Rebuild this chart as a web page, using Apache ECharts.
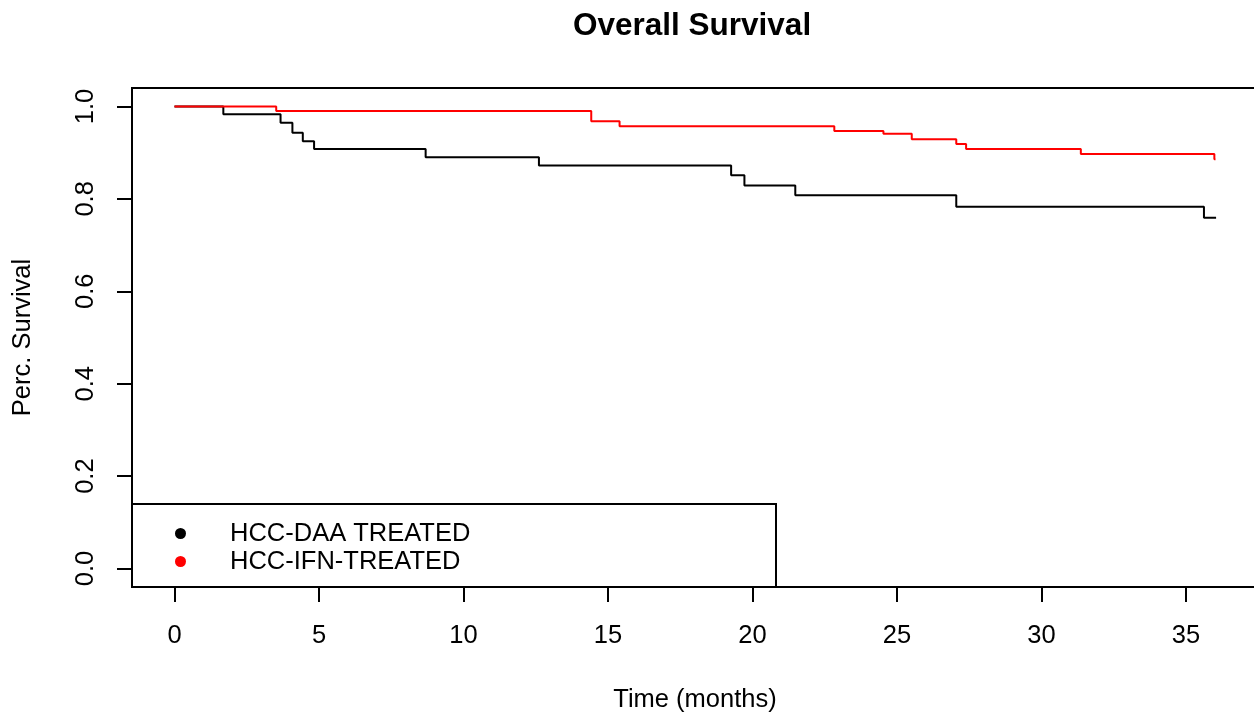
<!DOCTYPE html>
<html>
<head>
<meta charset="utf-8">
<script src="https://cdn.jsdelivr.net/npm/echarts@6/dist/echarts.min.js"></script>
<style>
  html, body { margin: 0; padding: 0; background: #fff; }
  #main { width: 1254px; height: 713px; }
</style>
</head>
<body>
<div id="main"></div>
<script>
// Kaplan-Meier steps (time in months, survival fraction)
var daaTime = [0, 1.69, 3.67, 4.08, 4.44, 4.83, 8.69, 12.61, 19.26, 19.72, 21.48, 27.05, 35.62, 36.04];
var daaSurv = [1.0, 0.983, 0.965, 0.943, 0.925, 0.908, 0.890, 0.872, 0.851, 0.829, 0.808, 0.783, 0.759, 0.759];
var ifnTime = [0, 3.52, 14.42, 15.40, 22.83, 24.53, 25.51, 27.05, 27.39, 31.36, 35.98, 36.02];
var ifnSurv = [1.0, 0.990, 0.968, 0.957, 0.947, 0.941, 0.929, 0.919, 0.908, 0.897, 0.886, 0.886];
var seriesNames = ["HCC-DAA TREATED", "HCC-IFN-TREATED"];
var xTicks = [0, 5, 10, 15, 20, 25, 30, 35];
var yTicks = [0, 0.2, 0.4, 0.6, 0.8, 1.0];

function pairs(xs, ys) {
  return xs.map(function (x, i) { return [x, ys[i]]; });
}

var FONT = "'Liberation Sans', Arial, sans-serif";
var chart = echarts.init(document.getElementById("main"));

var option = {
  animation: false,
  backgroundColor: "#fff",
  textStyle: { fontFamily: FONT, color: "#000" },
  title: {
    text: "Overall Survival",
    left: 573,
    top: 10,
    padding: 0,
    textStyle: { fontFamily: FONT, fontSize: 31.5, fontWeight: "bold", color: "#000" }
  },
  grid: {
    left: 132,
    right: -4,
    top: 88,
    bottom: 126,
    show: true,
    borderColor: "#000",
    borderWidth: 2,
    outerBoundsMode: "none"
  },
  xAxis: {
    type: "value",
    min: -1.47,
    max: 37.49,
    name: "Time (months)",
    nameLocation: "middle",
    nameGap: 100,
    nameTextStyle: { fontFamily: FONT, fontSize: 25.5, color: "#000" },
    axisLine: { show: false, onZero: false },
    splitLine: { show: false },
    axisTick: {
      customValues: xTicks,
      inside: false,
      length: 15,
      lineStyle: { color: "#000", width: 2 }
    },
    axisLabel: {
      customValues: xTicks,
      margin: 36,
      fontFamily: FONT,
      fontSize: 25.5,
      color: "#000"
    }
  },
  yAxis: {
    type: "value",
    min: -0.04,
    max: 1.04,
    name: "Perc. Survival",
    nameLocation: "middle",
    nameGap: 96,
    nameTextStyle: { fontFamily: FONT, fontSize: 25.5, color: "#000" },
    axisLine: { show: false, onZero: false },
    splitLine: { show: false },
    axisTick: {
      customValues: yTicks,
      inside: false,
      length: 15,
      lineStyle: { color: "#000", width: 2 }
    },
    axisLabel: {
      customValues: yTicks,
      rotate: 90,
      margin: 33.5,
      fontFamily: FONT,
      fontSize: 25.5,
      color: "#000",
      formatter: function (v) { return v.toFixed(1); }
    }
  },
  graphic: [
    {
      type: "rect",
      z: 5,
      shape: { x: 132, y: 504, width: 644, height: 83 },
      style: { fill: "#fff", stroke: "#000", lineWidth: 2 }
    }
  ],
  legend: {
    z: 10,
    orient: "vertical",
    left: 175,
    top: 519.5,
    padding: 0,
    itemGap: 0,
    itemWidth: 11,
    itemHeight: 11,
    icon: "circle",
    selectedMode: false,
    data: seriesNames,
    textStyle: {
      fontFamily: FONT,
      fontSize: 25.5,
      color: "#000",
      lineHeight: 28,
      padding: [0, 0, 0, 39]
    }
  },
  series: [
    {
      name: seriesNames[0],
      type: "line",
      step: "end",
      showSymbol: false,
      symbol: "none",
      color: "#000000",
      lineStyle: { color: "#000000", width: 2 },
      data: pairs(daaTime, daaSurv)
    },
    {
      name: seriesNames[1],
      type: "line",
      step: "end",
      showSymbol: false,
      symbol: "none",
      color: "#ff0000",
      lineStyle: { color: "#ff0000", width: 2 },
      data: pairs(ifnTime, ifnSurv)
    }
  ]
};

chart.setOption(option);
</script>
</body>
</html>
